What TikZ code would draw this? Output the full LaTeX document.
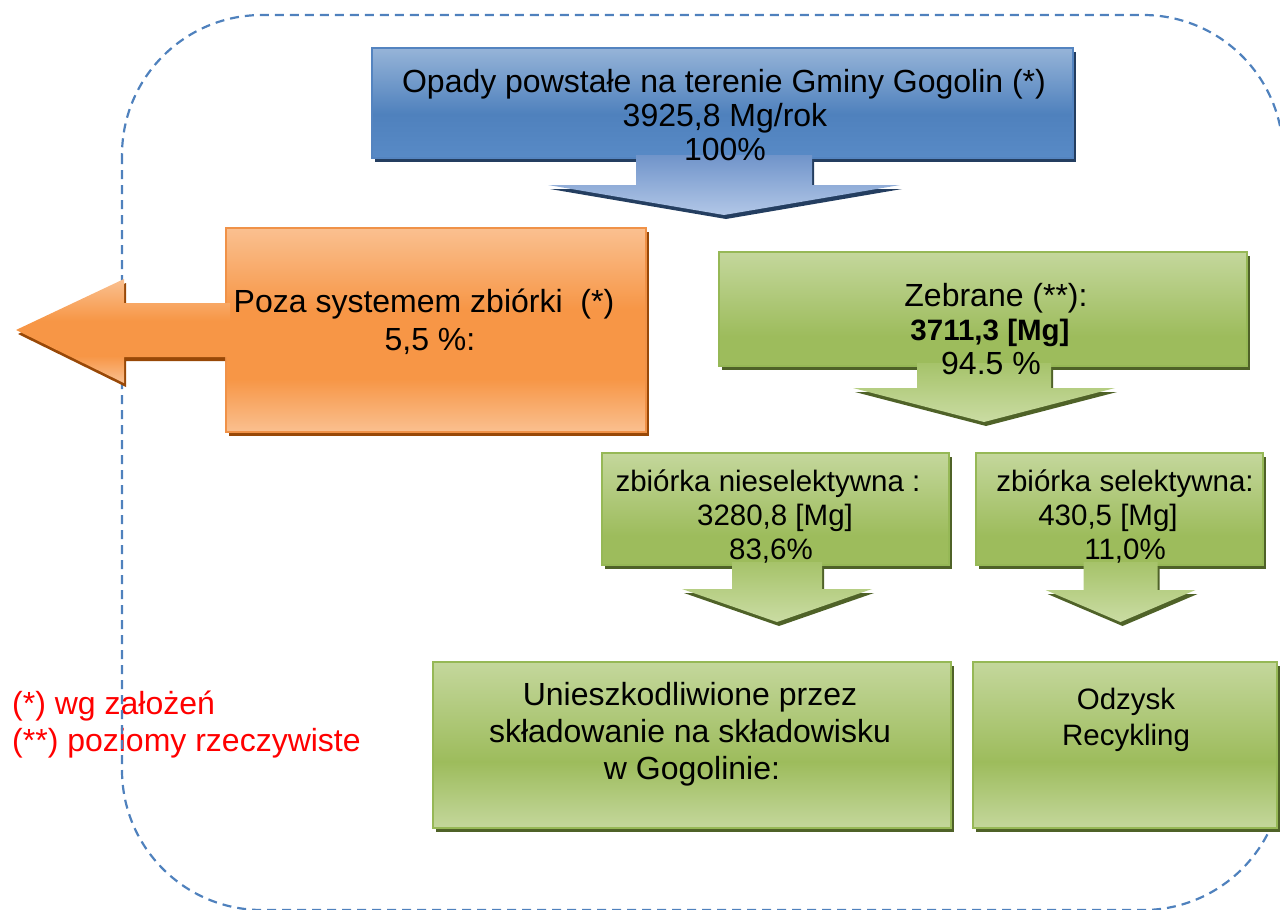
\documentclass[tikz,border=0pt]{standalone}
\usepackage{fontspec}
\setmainfont{Liberation Sans}
\usetikzlibrary{calc}
\pgfdeclarelayer{bg}
\pgfsetlayers{bg,main}
% colours
\definecolor{bT}{RGB}{150,180,216}
\definecolor{bD}{RGB}{79,129,189}
\definecolor{bB}{RGB}{88,138,198}
\definecolor{bE}{RGB}{84,132,192}
\definecolor{bS}{RGB}{36,62,96}
\definecolor{baT}{RGB}{112,148,202}
\definecolor{baB}{RGB}{178,199,231}
\definecolor{oL}{RGB}{250,192,144}
\definecolor{oD}{RGB}{247,150,70}
\definecolor{oE}{RGB}{240,146,72}
\definecolor{oS}{RGB}{152,72,7}
\definecolor{gT}{RGB}{196,215,156}
\definecolor{gD}{RGB}{157,188,92}
\definecolor{gE}{RGB}{150,184,86}
\definecolor{gS}{RGB}{79,98,40}
\definecolor{gaT}{RGB}{166,195,106}
\definecolor{gaB}{RGB}{202,220,163}
\definecolor{frameblue}{RGB}{79,129,189}
\pgfdeclareverticalshading{blueBox}{100bp}{color(0bp)=(bB); color(25bp)=(bB); color(45bp)=(bD); color(75bp)=(bT); color(100bp)=(bT)}
\pgfdeclareverticalshading{orangeBox}{100bp}{color(0bp)=(oL); color(25bp)=(oL); color(38bp)=(oD); color(55bp)=(oD); color(75bp)=(oL); color(100bp)=(oL)}
\pgfdeclareverticalshading{greenBox}{100bp}{color(0bp)=(gD); color(25bp)=(gD); color(38bp)=(gD); color(75bp)=(gT); color(100bp)=(gT)}
\pgfdeclareverticalshading{greenBig}{100bp}{color(0bp)=(gT); color(25bp)=(gT); color(45bp)=(gD); color(75bp)=(gT); color(100bp)=(gT)}
\tikzset{
  boxbase/.style={rectangle, anchor=north west, inner sep=0pt, outer sep=0pt, line width=1.5pt},
  bluebox/.style={boxbase, draw=bE, shading=blueBox},
  orangebox/.style={boxbase, draw=oE, shading=orangeBox},
  greenbox/.style={boxbase, draw=gE, shading=greenBox},
  greenbig/.style={boxbase, draw=gE, shading=greenBig},
  bluearr/.style={top color=baT, bottom color=baB},
  bluearrsh/.style={fill=bS},
  greenarr/.style={top color=gaT, bottom color=gaB},
  greenarrsh/.style={fill=gS},
  orangearr/.style={shading=orangeBox},
  orangearrsh/.style={fill=oS},
  txt/.style={font=\fontsize{32}{35}\selectfont, inner sep=0pt, anchor=base},
  stxt/.style={txt, font=\fontsize{29.5}{35}\selectfont},
  note/.style={txt, anchor=base west, text={rgb,255:red,255;green,0;blue,0}},
  frame/.style={draw=frameblue, line width=2.2pt, dash pattern=on 9pt off 6pt, rounded corners=140pt},
}
% block arrow pointing down: #1 anchor, #2 x offset, #3 stem half width,
% #4 head half width, #5 stem length, #6 head length, #7 style prefix
\newcommand\blockdown[7]{%
  \fill[#7sh] ($(#1)+(#2-#3+2,1)$) -- ++(0,#5+3) -- ++(#3-#4,0) -- ++(#4,#6) -- ++(#4,-#6) -- ++(#3-#4,0) -- ++(0,-#5-3) -- cycle;
  \path[#7] ($(#1)+(#2-#3,-3)$) -- ++(0,#5+3) -- ++(#3-#4,0) -- ++(#4,#6) -- ++(#4,-#6) -- ++(#3-#4,0) -- ++(0,-#5-3) -- cycle;
}
\begin{document}
\begin{tikzpicture}[x=1pt,y=-1pt]
\useasboundingbox (0,0) rectangle (1280,910);
\begin{pgfonlayer}{bg}
  \node[note] (n1) at (12,714) {(*) wg założeń};
  \node[note] (n2) at (12,751) {(**) poziomy rzeczywiste};
  \draw[frame] (122,15) rectangle (1283,910);
\end{pgfonlayer}
% boxes
\node[bluebox, minimum width=701pt, minimum height=110pt] (src) at (372,48) {};
\node[orangebox, minimum width=420pt, minimum height=204pt] (out) at (226,228) {};
\node[greenbox, minimum width=528pt, minimum height=114pt] (zeb) at (719,252) {};
\node[greenbox, minimum width=347pt, minimum height=112pt] (nsel) at (602,453) {};
\node[greenbox, minimum width=287pt, minimum height=112pt] (sel) at (976,453) {};
\node[greenbig, minimum width=518pt, minimum height=166pt] (land) at (433,662) {};
\node[greenbig, minimum width=304pt, minimum height=166pt] (rec) at (973,662) {};
% box shadows
\begin{pgfonlayer}{bg}
  \foreach \b/\c in {src/bS, out/oS, zeb/gS, nsel/gS, sel/gS, land/gS, rec/gS}
    \fill[\c] ($(\b.south west)+(3,4)$) rectangle ($(\b.north east)+(3,4)$);
\end{pgfonlayer}
% block arrows
\blockdown{src.south}{1.5}{88}{176}{27}{30}{bluearr}
\blockdown{zeb.south}{1}{67}{131}{22}{34}{greenarr}
\blockdown{nsel.south}{1.5}{45}{95}{24}{33}{greenarr}
\blockdown{sel.south}{1}{37}{75}{25}{32}{greenarr}
\fill[orangearrsh] ($(out.west)+(-1,-23)$) -- ++(-99,0) -- ++(0,-24) -- ++(-108,51) -- ++(108,53) -- ++(0,-26) -- ++(99,0) -- cycle;
\path[orangearr] ($(out.west)+(4,-27)$) -- ++(-106,0) -- ++(0,-24) -- ++(-108,51) -- ++(108,53) -- ++(0,-26) -- ++(106,0) -- cycle;
% texts
\node[txt] (s1) at (724,92) {Opady powstałe na terenie Gminy Gogolin (*)};
\node[txt] (s2) at (725,126) {3925,8 Mg/rok};
\node[txt] (s3) at (725,160) {100\%};
\node[txt] (o1) at (424,312) {Poza systemem zbiórki\ \ (*)};
\node[txt] (o2) at (430,350) {5,5 \%:};
\node[txt] (z1) at (996,306) {Zebrane (**):};
\node[stxt] (z2) at (990,340) {\bfseries 3711,3 [Mg]};
\node[txt] (z3) at (991,374) {94.5 \%};
\node[stxt] (a1) at (768,491) {zbiórka nieselektywna :};
\node[stxt] (a2) at (775,525) {3280,8 [Mg]};
\node[stxt] (a3) at (771,559) {83,6\%};
\node[stxt] (b1) at (1125,491) {zbiórka selektywna:};
\node[stxt] (b2) at (1108,525) {430,5 [Mg]};
\node[stxt] (b3) at (1125,559) {11,0\%};
\node[txt] (l1) at (690,705) {Unieszkodliwione przez};
\node[txt] (l2) at (690,742) {składowanie na składowisku};
\node[txt] (l3) at (692,779) {w Gogolinie:};
\node[stxt] (r1) at (1126,709) {Odzysk};
\node[stxt] (r2) at (1126,745) {Recykling};
\end{tikzpicture}
\end{document}
